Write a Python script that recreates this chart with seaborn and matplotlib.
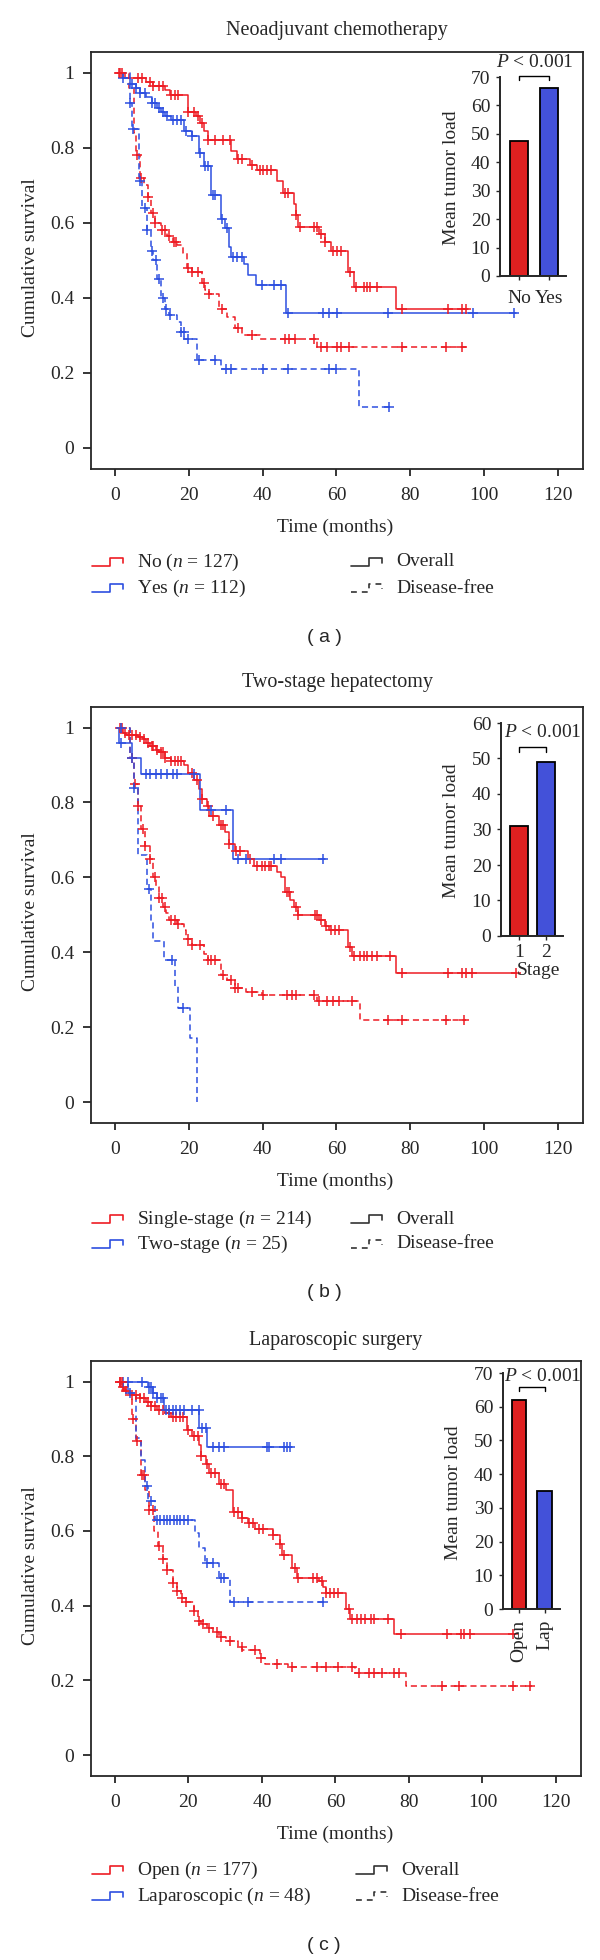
import numpy as np
import pandas as pd
import seaborn as sns
import matplotlib
matplotlib.use("Agg")
import matplotlib.pyplot as plt
from matplotlib.lines import Line2D

# ---------------- data (months, cumulative survival) ----------------
# (a) Neoadjuvant chemotherapy
a_no_os_t = [1.0, 2.6, 8.4, 10.4, 13.6, 15.0, 19.8, 22.0, 23.0, 24.0, 25.1, 31.3, 33.0, 36.5, 38.6,
             43.9, 45.4, 48.6, 49.1, 49.6, 55.4, 57.0, 58.5, 63.2, 64.8, 76.0]
a_no_os_s = [1.0, 0.985, 0.975, 0.965, 0.955, 0.94, 0.895, 0.885, 0.865, 0.845, 0.82, 0.79, 0.77, 0.755, 0.74,
             0.71, 0.68, 0.65, 0.62, 0.59, 0.57, 0.55, 0.525, 0.47, 0.43, 0.37]
a_no_os_end = 95.6
a_no_os_c = [1.0, 1.9, 6.3, 7.3, 9.4, 10.4, 12.0, 13.1, 15.1, 16.2, 17.2, 19.8, 21.4, 22.5, 23.5, 25.1, 27.2,
             29.2, 31.1, 33.4, 34.5, 37.1, 39.2, 40.2, 41.3, 42.3, 46.0, 47.0, 49.1, 50.1, 53.8, 54.8, 55.9,
             57.0, 59.0, 60.1, 61.1, 63.7, 65.3, 67.4, 68.4, 69.0, 71.0, 77.8, 90.3, 94.0, 95.0]

a_yes_os_t = [1.3, 2.1, 4.2, 5.7, 6.8, 8.4, 9.9, 11.5, 12.5, 13.6, 15.1, 18.8, 20.9, 22.7, 24.0, 25.9, 28.7,
              29.8, 31.0, 31.3, 35.0, 36.0, 38.1, 46.2]
a_yes_os_s = [1.0, 0.985, 0.97, 0.96, 0.945, 0.935, 0.92, 0.905, 0.895, 0.885, 0.875, 0.845, 0.83, 0.785, 0.75,
              0.675, 0.61, 0.585, 0.535, 0.51, 0.49, 0.46, 0.435, 0.36]
a_yes_os_end = 108.6
a_yes_os_c = [2.3, 4.7, 5.7, 6.8, 8.1, 9.9, 10.9, 12.0, 13.1, 14.1, 15.7, 16.7, 17.8, 19.3, 20.9, 22.9, 24.5,
              25.1, 26.6, 27.2, 29.0, 30.3, 31.9, 33.0, 34.3, 39.7, 43.1, 44.9, 47.0, 56.4, 57.9, 60.1, 74.1,
              97.1, 108.1]

a_no_dfs_t = [1.0, 3.7, 5.2, 5.7, 6.8, 7.8, 8.9, 9.7, 10.8, 12.5, 14.1, 15.7, 16.7, 18.3, 19.5, 20.9, 23.5,
              24.5, 25.6, 28.2, 30.3, 32.6, 34.5, 39.2, 54.8]
a_no_dfs_s = [1.0, 0.96, 0.84, 0.78, 0.72, 0.70, 0.67, 0.625, 0.60, 0.58, 0.565, 0.55, 0.54, 0.52, 0.48, 0.47,
              0.44, 0.42, 0.41, 0.37, 0.35, 0.32, 0.30, 0.29, 0.27]
a_no_dfs_end = 95.0
a_no_dfs_c = [1.4, 6.0, 7.1, 9.0, 10.2, 10.9, 12.8, 13.6, 14.6, 15.9, 16.5, 19.8, 20.9, 22.5, 24.0, 25.6,
              29.0, 33.4, 37.1, 46.0, 47.2, 48.9, 53.8, 55.9, 57.4, 60.1, 61.1, 63.5, 77.8, 89.8, 94.0]

a_yes_dfs_t = [1.3, 4.0, 4.7, 6.5, 7.3, 8.7, 9.7, 10.4, 11.5, 12.5, 13.6, 14.6, 16.7, 17.8, 18.8, 22.1, 28.7,
               66.1]
a_yes_dfs_s = [1.0, 0.92, 0.85, 0.71, 0.64, 0.58, 0.525, 0.50, 0.45, 0.40, 0.37, 0.355, 0.335, 0.31, 0.29,
               0.235, 0.21, 0.11]
a_yes_dfs_end = 74.4
a_yes_dfs_c = [4.0, 4.8, 6.8, 8.1, 8.8, 10.1, 11.0, 12.0, 13.0, 13.9, 14.8, 17.8, 18.6, 19.8, 22.8, 27.2,
               30.1, 31.3, 40.2, 46.8, 58.0, 59.8, 74.2]

# (b) Two-stage hepatectomy
b_one_os_t = [1.0, 2.3, 3.0, 6.3, 7.5, 8.4, 9.4, 11.0, 12.0, 13.6, 15.1, 18.6, 19.8, 21.4, 22.8, 23.5, 24.8,
              25.6, 28.2, 29.8, 30.8, 32.4, 36.0, 37.6, 43.9, 44.9, 46.0, 47.5, 48.6, 49.6, 55.4, 56.9, 58.0,
              63.2, 64.2, 76.0]
b_one_os_s = [1.0, 0.985, 0.98, 0.975, 0.97, 0.96, 0.95, 0.94, 0.935, 0.92, 0.91, 0.90, 0.88, 0.86, 0.835,
              0.81, 0.79, 0.765, 0.74, 0.72, 0.69, 0.67, 0.65, 0.63, 0.615, 0.60, 0.56, 0.54, 0.52, 0.50,
              0.485, 0.47, 0.46, 0.415, 0.39, 0.345]
b_one_os_end = 108.6
b_one_os_c = [1.4, 1.9, 2.6, 3.7, 4.7, 5.7, 6.8, 7.8, 8.9, 9.9, 10.4, 11.5, 12.5, 13.1, 13.6, 15.1, 16.2,
              17.2, 17.8, 20.9, 22.1, 23.5, 25.1, 26.6, 28.7, 29.2, 30.8, 32.9, 33.9, 36.6, 38.6, 39.7,
              40.7, 41.8, 42.3, 46.5, 47.2, 49.1, 49.6, 54.1, 54.8, 55.9, 57.2, 58.5, 59.5, 60.6, 63.7,
              64.8, 66.3, 67.4, 68.4, 69.5, 71.0, 74.4, 77.8, 90.3, 94.0, 95.0, 96.6, 108.6]

b_two_os_t = [1.0, 1.2, 4.7, 7.1, 23.0, 32.1]
b_two_os_s = [1.0, 0.96, 0.92, 0.875, 0.78, 0.65]
b_two_os_end = 56.9
b_two_os_c = [1.5, 8.4, 9.4, 11.0, 12.5, 14.1, 15.7, 16.7, 21.4, 26.1, 30.0, 33.4, 35.5, 43.1, 44.9, 56.4]

b_one_dfs_t = [1.0, 4.2, 5.2, 6.1, 7.1, 8.1, 9.4, 10.4, 11.0, 12.0, 13.1, 13.8, 14.6, 16.7, 18.8, 19.3,
               20.9, 24.0, 25.1, 28.7, 30.3, 32.4, 35.5, 39.7, 54.8, 66.3]
b_one_dfs_s = [1.0, 0.92, 0.85, 0.79, 0.73, 0.685, 0.65, 0.60, 0.575, 0.545, 0.52, 0.505, 0.485, 0.475,
               0.46, 0.435, 0.42, 0.395, 0.38, 0.34, 0.325, 0.305, 0.295, 0.285, 0.27, 0.22]
b_one_dfs_end = 95.0
b_one_dfs_c = [4.7, 5.4, 6.3, 7.5, 8.1, 9.4, 10.8, 12.0, 12.8, 13.6, 15.1, 16.2, 17.2, 19.8, 20.9, 23.0,
               25.1, 26.1, 27.2, 29.2, 31.3, 32.6, 33.4, 37.1, 40.2, 46.5, 48.0, 49.1, 53.8, 55.4, 57.4,
               59.0, 60.6, 64.2, 74.1, 77.8, 89.8, 94.5]

b_two_dfs_t = [1.0, 4.2, 5.2, 6.3, 8.7, 9.7, 10.4, 13.4, 16.2, 17.2, 20.4, 22.3]
b_two_dfs_s = [1.0, 0.92, 0.84, 0.66, 0.57, 0.48, 0.43, 0.38, 0.31, 0.25, 0.17, 0.0]
b_two_dfs_end = 22.3
b_two_dfs_c = [1.5, 4.7, 5.2, 9.2, 15.4, 18.3]

# (c) Laparoscopic surgery
c_open_os_t = [1.0, 1.5, 2.6, 4.2, 6.8, 8.4, 9.9, 11.5, 13.6, 15.2, 19.6, 20.9, 22.8, 23.5, 24.9, 25.6,
               28.2, 30.3, 32.1, 34.5, 36.1, 38.2, 42.9, 44.8, 45.5, 48.3, 49.5, 55.4, 56.5, 57.5, 63.0,
               64.0, 75.8]
c_open_os_s = [1.0, 0.985, 0.975, 0.965, 0.955, 0.945, 0.935, 0.925, 0.915, 0.905, 0.87, 0.855, 0.83, 0.80,
               0.78, 0.755, 0.725, 0.71, 0.65, 0.635, 0.62, 0.605, 0.59, 0.565, 0.535, 0.50, 0.475, 0.465,
               0.45, 0.435, 0.39, 0.365, 0.325]
c_open_os_end = 108.8
c_open_os_c = [1.4, 2.1, 3.1, 4.7, 5.8, 6.8, 7.8, 8.9, 9.9, 11.0, 12.0, 13.1, 14.6, 15.7, 16.7, 17.8, 18.6,
               19.9, 21.4, 22.5, 23.5, 25.1, 26.2, 27.2, 28.8, 29.8, 32.4, 33.5, 34.5, 36.6, 37.7, 39.2,
               40.3, 42.9, 45.0, 46.0, 48.9, 49.7, 53.9, 54.9, 56.3, 57.5, 58.6, 59.6, 60.7, 63.8, 64.6,
               65.9, 67.0, 68.0, 69.6, 70.6, 74.3, 77.8, 90.4, 94.1, 94.9, 96.7, 108.3]

c_lap_os_t = [1.0, 8.9, 10.5, 11.5, 13.4, 23.0, 25.1]
c_lap_os_s = [1.0, 0.985, 0.97, 0.955, 0.925, 0.875, 0.825]
c_lap_os_end = 48.1
c_lap_os_c = [2.1, 3.7, 7.3, 9.2, 9.9, 10.5, 11.5, 12.6, 13.1, 13.8, 14.6, 15.7, 16.7, 17.8, 18.8, 20.9,
              22.8, 23.8, 24.9, 26.7, 28.2, 29.8, 41.3, 41.8, 46.0, 46.9, 47.6]

c_open_dfs_t = [1.0, 2.0, 3.1, 4.7, 5.8, 7.1, 8.2, 9.4, 10.7, 11.8, 13.1, 14.3, 15.7, 16.9, 18.0, 19.4,
                21.4, 22.5, 23.5, 25.1, 26.7, 28.2, 30.3, 33.5, 34.7, 39.5, 40.8, 47.1, 65.4, 79.2]
c_open_dfs_s = [1.0, 0.98, 0.97, 0.90, 0.84, 0.75, 0.71, 0.655, 0.60, 0.56, 0.525, 0.495, 0.46, 0.44, 0.42,
                0.41, 0.385, 0.36, 0.35, 0.34, 0.33, 0.315, 0.305, 0.29, 0.28, 0.26, 0.245, 0.235, 0.22,
                0.185]
c_open_dfs_end = 113.5
c_open_dfs_c = [1.3, 1.9, 5.0, 6.1, 7.3, 8.0, 9.4, 10.5, 12.0, 13.1, 14.3, 15.7, 16.9, 18.3, 19.4, 21.4,
                23.0, 24.1, 25.6, 27.7, 28.8, 31.4, 34.5, 38.2, 39.7, 44.1, 48.1, 54.9, 57.5, 60.7, 64.4,
                66.4, 69.0, 70.6, 72.7, 75.8, 77.4, 88.9, 93.6, 108.3, 113.0]

c_lap_dfs_t = [1.5, 3.5, 5.8, 7.0, 8.2, 8.9, 11.0, 21.8, 22.8, 24.6, 28.2, 31.4]
c_lap_dfs_s = [1.0, 0.97, 0.85, 0.79, 0.72, 0.68, 0.63, 0.595, 0.555, 0.515, 0.475, 0.41]
c_lap_dfs_end = 57.0
c_lap_dfs_c = [4.2, 8.6, 9.9, 11.5, 12.4, 13.3, 14.2, 15.1, 16.0, 16.9, 17.8, 18.8, 19.9, 25.1, 26.6, 28.8,
               29.8, 32.4, 36.1, 56.5]

# inset bar charts: mean tumor load
a_bar_labels = ["No", "Yes"]
a_bar_values = [47.5, 66.0]
b_bar_labels = ["1", "2"]
b_bar_values = [31.0, 49.0]
c_bar_labels = ["Open", "Lap"]
c_bar_values = [62.0, 35.0]

titles = ["Neoadjuvant chemotherapy", "Two-stage hepatectomy", "Laparoscopic surgery"]
legend_groups = [["No ($\\it{n}$ = 127)", "Yes ($\\it{n}$ = 112)"],
                 ["Single-stage ($\\it{n}$ = 214)", "Two-stage ($\\it{n}$ = 25)"],
                 ["Open ($\\it{n}$ = 177)", "Laparoscopic ($\\it{n}$ = 48)"]]
panel_tags = ["( a )", "( b )", "( c )"]

# ---------------- style ----------------
sns.set_style("ticks")
plt.rcParams["font.family"] = ["Liberation Serif", "DejaVu Serif"]
plt.rcParams["mathtext.fontset"] = "custom"
plt.rcParams["mathtext.rm"] = "Liberation Serif"
plt.rcParams["mathtext.it"] = "Liberation Serif:italic"

RED = "#ee1c24"
BLUE = "#2d4fe0"
BAR_RED = "#ff0000"
BAR_BLUE = "#2a3df2"
DASH = (0, (4, 2.5))
FS = 14

W, H = 600, 1960
fig = plt.figure(figsize=(W / 100, H / 100), dpi=100)


def box(l, t, r, b):
    return [l / W, 1 - b / H, (r - l) / W, (b - t) / H]


def fx(x):
    return x / W


def fy(y):
    return 1 - y / H


def km(ax, t, s, end, cens, color, dashed):
    x = list(t) + [end]
    y = list(s) + [s[-1]]
    sns.lineplot(x=x, y=y, drawstyle="steps-post", color=color, lw=1.1,
                 linestyle=DASH if dashed else "-", estimator=None, sort=False, ax=ax)
    idx = np.searchsorted(t, cens, side="right") - 1
    cy = np.asarray(s)[np.clip(idx, 0, len(s) - 1)]
    sns.scatterplot(x=cens, y=cy, marker="+", s=45, linewidth=1.1, color=color, ax=ax, zorder=3)


def inset(p):
    labels, values = p["bars"]
    ymax = p["ymax"]
    iax = fig.add_axes(box(*p["ins"]))
    df = pd.DataFrame({"g": labels, "v": values})
    sns.barplot(data=df, x="g", y="v", hue="g", palette=[BAR_RED, BAR_BLUE], legend=False,
                width=p["bw"], edgecolor="black", linewidth=1.3, ax=iax)
    iax.set_xlim(*p["ixlim"])
    iax.set_ylim(0, ymax)
    iax.set_yticks(np.arange(0, ymax + 1, 10))
    iax.tick_params(axis="y", length=3, width=1, pad=4, labelsize=FS)
    iax.tick_params(axis="x", length=3, width=1, pad=p["xpad"], labelsize=FS)
    if p["rot"]:
        iax.set_xticks([0, 1])
        iax.set_xticklabels(labels, rotation=90, va="top")
    iax.set_xlabel("")
    iax.set_ylabel("Mean tumor load", fontsize=FS, va="center", ha="center")
    iax.yaxis.set_label_coords(fx(p["ylab"][0]), fy(p["ylab"][1]), transform=fig.transFigure)
    for sp in ["top", "right"]:
        iax.spines[sp].set_visible(False)
    for sp in ["left", "bottom"]:
        iax.spines[sp].set_linewidth(1.4)
    iax.patch.set_alpha(0)
    by, px, py = p["pval"]
    iax.plot([0, 0, 1, 1], [by - 1.3, by, by, by - 1.3], color="black", lw=1.0, clip_on=False)
    iax.text(px, py, "$\\it{P}$ < 0.001", ha="left", va="center", fontsize=FS, clip_on=False)
    if p["stage"]:
        fig.text(fx(538), fy(p["stage"]), "Stage", ha="center", va="center", fontsize=FS)
    return iax


panels = [
    dict(main=(91, 52, 583, 469), ins=(500, 77, 566, 276), ymax=70, bars=(a_bar_labels, a_bar_values),
         ixlim=(-0.63, 1.57), bw=0.6, rot=False, xpad=7, stage=None, ylab=(451, 178),
         pval=(70.3, -0.77, 75.0), title_y=31, leg=(562, 588), tag_y=638,
         curves=[(a_no_os_t, a_no_os_s, a_no_os_end, a_no_os_c, RED, False),
                 (a_yes_os_t, a_yes_os_s, a_yes_os_end, a_yes_os_c, BLUE, False),
                 (a_no_dfs_t, a_no_dfs_s, a_no_dfs_end, a_no_dfs_c, RED, True),
                 (a_yes_dfs_t, a_yes_dfs_s, a_yes_dfs_end, a_yes_dfs_c, BLUE, True)]),
    dict(main=(91, 707, 583, 1123), ins=(501, 723, 563, 936), ymax=60, bars=(b_bar_labels, b_bar_values),
         ixlim=(-0.67, 1.63), bw=0.66, rot=False, xpad=3, stage=970, ylab=(452, 831),
         pval=(53.2, -0.56, 57.2), title_y=683, leg=(1219, 1244), tag_y=1292,
         curves=[(b_one_os_t, b_one_os_s, b_one_os_end, b_one_os_c, RED, False),
                 (b_two_os_t, b_two_os_s, b_two_os_end, b_two_os_c, BLUE, False),
                 (b_one_dfs_t, b_one_dfs_s, b_one_dfs_end, b_one_dfs_c, RED, True),
                 (b_two_dfs_t, b_two_dfs_s, b_two_dfs_end, b_two_dfs_c, BLUE, True)]),
    dict(main=(91, 1361, 581, 1776), ins=(503, 1373, 560, 1609), ymax=70, bars=(c_bar_labels, c_bar_values),
         ixlim=(-0.63, 1.6), bw=0.57, rot=True, xpad=5, stage=None, ylab=(454, 1493),
         pval=(65.9, -0.59, 69.1), title_y=1340, leg=(1870, 1896), tag_y=1945,
         curves=[(c_open_os_t, c_open_os_s, c_open_os_end, c_open_os_c, RED, False),
                 (c_lap_os_t, c_lap_os_s, c_lap_os_end, c_lap_os_c, BLUE, False),
                 (c_open_dfs_t, c_open_dfs_s, c_open_dfs_end, c_open_dfs_c, RED, True),
                 (c_lap_dfs_t, c_lap_dfs_s, c_lap_dfs_end, c_lap_dfs_c, BLUE, True)]),
]


def glyph(x0, yc, color, dashed):
    xs = [x0, x0 + 18, x0 + 18, x0 + 31, x0 + 31]
    ys = [yc + 4, yc + 4, yc - 4, yc - 4, yc + 1]
    fig.add_artist(Line2D([fx(v) for v in xs], [fy(v) for v in ys], color=color, lw=1.2,
                          linestyle=(0, (3.5, 3)) if dashed else "-", transform=fig.transFigure))


for i, p in enumerate(panels):
    l, t, r, b = p["main"]
    ax = fig.add_axes(box(l, t, r, b))
    for c in p["curves"]:
        km(ax, *c)
    ax.set_xlim(-6.5, 126.8)
    ax.set_ylim(-0.056, 1.055)
    ax.set_xticks(range(0, 121, 20))
    ax.set_yticks([0, 0.2, 0.4, 0.6, 0.8, 1.0])
    ax.set_yticklabels(["0", "0.2", "0.4", "0.6", "0.8", "1"])
    ax.tick_params(axis="y", length=6, width=1.3, pad=6, labelsize=FS)
    ax.tick_params(axis="x", length=5, width=1.3, pad=8, labelsize=FS)
    for sp in ax.spines.values():
        sp.set_linewidth(1.3)
    ax.set_xlabel("Time (months)", fontsize=FS, va="center")
    ax.xaxis.set_label_coords(fx(335), fy(b + 58), transform=fig.transFigure)
    ax.set_ylabel("Cumulative survival", fontsize=FS, va="center", ha="center")
    ax.yaxis.set_label_coords(fx(31), fy((t + b) / 2 - 3), transform=fig.transFigure)
    fig.text(fx((l + r) / 2), fy(p["title_y"]), titles[i], ha="center", va="center", fontsize=14.5)

    inset(p)

    # legend below the axes
    y1, y2 = p["leg"]
    gx2 = 351 if i < 2 else 356
    tx1 = 137
    tx2 = gx2 + 45
    glyph(92, y1, RED, False)
    glyph(92, y2, BLUE, False)
    glyph(gx2, y1, "#333333", False)
    glyph(gx2, y2, "#333333", True)
    fig.text(fx(tx1), fy(y1), legend_groups[i][0], ha="left", va="center", fontsize=FS)
    fig.text(fx(tx1), fy(y2), legend_groups[i][1], ha="left", va="center", fontsize=FS)
    fig.text(fx(tx2), fy(y1), "Overall", ha="left", va="center", fontsize=FS)
    fig.text(fx(tx2), fy(y2), "Disease-free", ha="left", va="center", fontsize=FS)
    fig.text(fx(324), fy(p["tag_y"]), panel_tags[i], ha="center", va="center", fontsize=FS,
             family=["Liberation Sans", "DejaVu Sans"])

fig.savefig("out.png", dpi=100)
